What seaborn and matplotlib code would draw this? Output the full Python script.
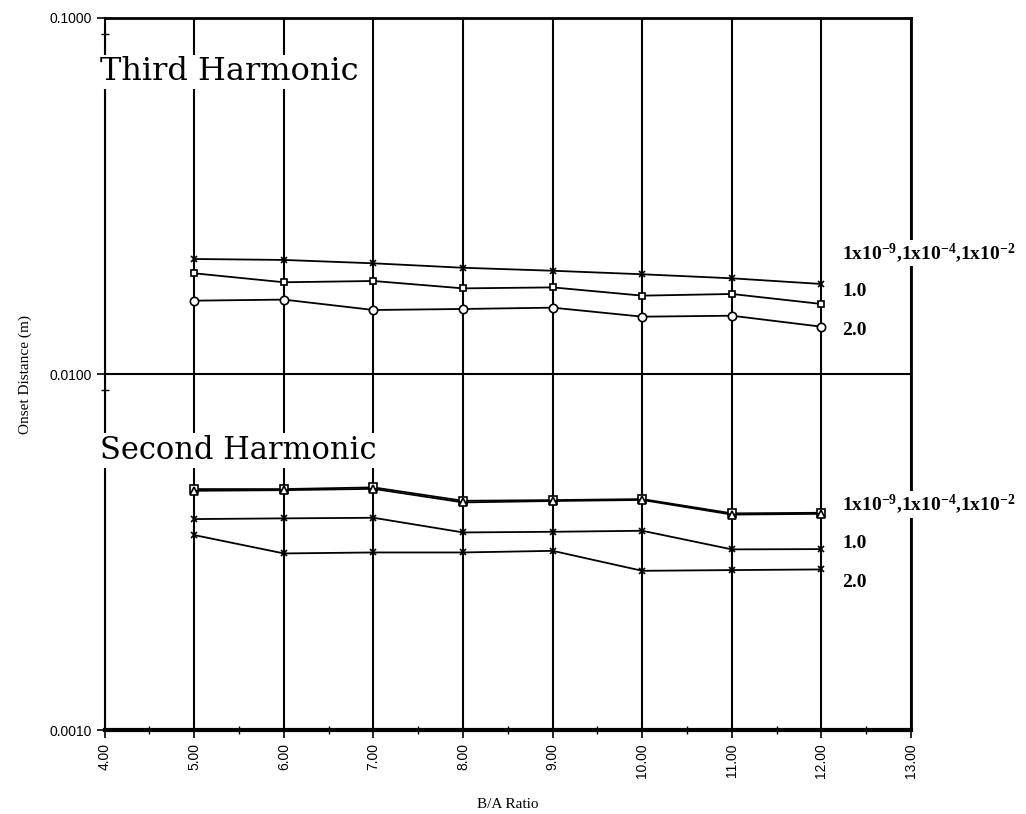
import numpy as np
import pandas as pd
import matplotlib
matplotlib.use("Agg")
import matplotlib.pyplot as plt
import matplotlib.ticker as mticker
import seaborn as sns

# ---- data ----
ba_ratio = [5, 6, 7, 8, 9, 10, 11, 12]

# third harmonic onset distance (m)
third_low = [0.02104, 0.02091, 0.02046, 0.01988, 0.01950, 0.01906, 0.01857, 0.01790]   # 1e-9, 1e-4, 1e-2
third_10 = [0.01918, 0.01810, 0.01825, 0.01740, 0.01751, 0.01660, 0.01678, 0.01573]    # 1.0
third_20 = [0.01607, 0.01618, 0.01513, 0.01523, 0.01536, 0.01449, 0.01458, 0.01358]    # 2.0

# second harmonic onset distance (m)
second_low_a = [0.004753, 0.004753, 0.004805, 0.004406, 0.004426, 0.004455, 0.004062, 0.004078]
second_low_b = [0.004700, 0.004720, 0.004760, 0.004360, 0.004400, 0.004430, 0.004030, 0.004050]
second_10 = [0.003915, 0.003933, 0.003948, 0.003591, 0.003606, 0.003630, 0.003218, 0.003224]
second_20 = [0.003530, 0.003135, 0.003155, 0.003155, 0.003188, 0.002802, 0.002815, 0.002827]

series_labels = [r"$\mathbf{1x10^{-9}{,}1x10^{-4}{,}1x10^{-2}}$", "1.0", "2.0"]
x_ticks = [4, 5, 6, 7, 8, 9, 10, 11, 12, 13]
y_ticks = [0.001, 0.01, 0.1]

sns.set_theme(style="white")
plt.rcParams["font.family"] = ["Liberation Serif", "DejaVu Serif"]
plt.rcParams["text.color"] = "black"
plt.rcParams["axes.labelcolor"] = "black"
plt.rcParams["mathtext.fontset"] = "custom"
plt.rcParams["mathtext.rm"] = "Liberation Serif"
plt.rcParams["mathtext.bf"] = "Liberation Serif:bold"

fig = plt.figure(figsize=(10.26, 8.14), dpi=100)
ax = fig.add_axes([0.102, 0.103, 0.786, 0.875])

curves = [
    (third_low, "x", 5, "black"),
    (third_10, "s", 5, "white"),
    (third_20, "o", 6, "white"),
    (second_low_a, "s", 6, "white"),
    (second_low_b, "^", 6, "white"),
    (second_10, "x", 5, "black"),
    (second_20, "x", 5, "black"),
]
for vals, mk, ms, fc in curves:
    sns.lineplot(x=ba_ratio, y=vals, ax=ax, color="black", linewidth=1.3,
                 marker=mk, markersize=ms, markerfacecolor=fc,
                 markeredgecolor="black", markeredgewidth=1.2, zorder=4)

ax.set_yscale("log")
ax.set_xlim(4, 13)
ax.set_ylim(0.001, 0.1)

ax.set_xticks(x_ticks)
ax.set_xticklabels([f"{v:.2f}" for v in x_ticks], rotation=90,
                   family=["Liberation Sans", "DejaVu Sans"], fontsize=10)
ax.xaxis.set_minor_locator(mticker.MultipleLocator(0.5))
ax.set_yticks(y_ticks)
ax.set_yticklabels([f"{v:.4f}" for v in y_ticks],
                   family=["Liberation Sans Narrow", "Liberation Sans"], fontsize=10)
ax.yaxis.set_minor_locator(mticker.LogLocator(base=10, subs=[0.9]))
ax.yaxis.set_minor_formatter(mticker.NullFormatter())

ax.tick_params(axis="both", which="major", direction="out", length=6, width=1.2,
               colors="black", left=True, bottom=True)
ax.tick_params(axis="both", which="minor", direction="inout", length=6, width=1,
               colors="black", left=True, bottom=True)

ax.grid(True, which="major", color="black", linewidth=1.5)
ax.set_axisbelow(True)
for side, lw in [("left", 1.5), ("right", 2), ("top", 2), ("bottom", 3)]:
    ax.spines[side].set_color("black")
    ax.spines[side].set_linewidth(lw)

ax.set_xlabel("B/A Ratio", fontsize=11, labelpad=14)
ax.set_ylabel("Onset Distance (m)", fontsize=11, labelpad=12)

# panel titles
box = dict(facecolor="white", edgecolor="none", pad=1)
ax.text(3.95, 0.0705, "Third Harmonic", fontsize=23, family="DejaVu Serif",
        ha="left", va="center", bbox=box, zorder=6, clip_on=False)
ax.text(3.95, 0.0061, "Second Harmonic", fontsize=22, family="DejaVu Serif",
        ha="left", va="center", bbox=box, zorder=6, clip_on=False)

# series labels on the right
third_label_y = [0.0219, 0.0170, 0.01329]
second_label_y = [0.00430, 0.003352, 0.002604]
for ys in (third_label_y, second_label_y):
    for lab, yv in zip(series_labels, ys):
        ax.text(12.23, yv, lab, fontsize=14, fontweight="bold", ha="left",
                va="center", bbox=box, zorder=6, clip_on=False)

fig.savefig("out.png", dpi=100, facecolor="white")
